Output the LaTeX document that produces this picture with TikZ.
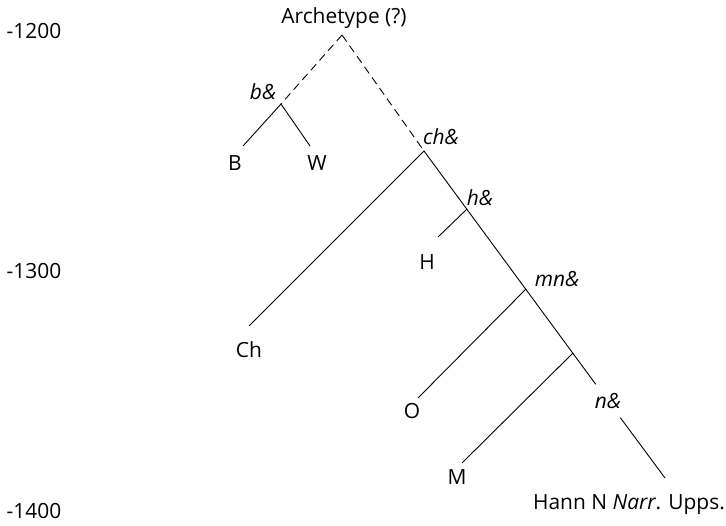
\documentclass[tikz,border=0pt]{standalone}
\usepackage{fontspec}
\setmainfont{Open Sans}
\begin{document}
\begin{tikzpicture}[x=1bp,y=-1bp,
  branch/.style={line width=0.9bp},
  lost/.style={line width=0.9bp,dash pattern=on 8bp off 5bp},
  lab/.style={inner sep=0pt,font=\fontsize{21}{25}\selectfont},
  hyp/.style={inner sep=0pt,font=\fontsize{21}{25}\selectfont\itshape}]
\useasboundingbox (0,0) rectangle (726,526);
% axis labels
\node[lab] (y1200) at (34,31) {-1200};
\node[lab] (y1300) at (34,271) {-1300};
\node[lab] (y1400) at (34,511) {-1400};
% junctions
\coordinate (apex) at (342,35);
\coordinate (bj) at (281,104);
\coordinate (chj) at (424,151);
\coordinate (hj) at (467,209);
\coordinate (mnj) at (526,289);
\coordinate (mj) at (573,353);
% leaf ends
\coordinate (bend) at (243,146);
\coordinate (wend) at (310,146);
\coordinate (chend) at (249,326);
\coordinate (hend) at (438,237);
\coordinate (oend) at (418,398);
\coordinate (mend) at (462,463);
\coordinate (hannend) at (665,478);
% labels
\node[lab] (arch) at (344,18) {Archetype (?)};
\node[hyp] (blab) at (263,92) {b\&};
\node[hyp] (chlab) at (441,137) {ch\&};
\node[hyp] (hlab) at (480,198) {h\&};
\node[hyp] (mnlab) at (557,279) {mn\&};
\node[hyp,minimum height=33bp] (nlab) at (608,401) {n\&};
\node[lab] (B) at (235,163) {B};
\node[lab] (W) at (317,163) {W};
\node[lab] (Ch) at (249,350) {Ch};
\node[lab] (H) at (427,262) {H};
\node[lab] (O) at (412,411) {O};
\node[lab] (M) at (457,477) {M};
\node[lab] (Hann) at (629,505) {Hann N \textit{Narr}. Upps.};
% lines
\draw[lost] (apex) -- (bj);
\draw[lost] (apex) -- (chj);
\draw[branch] (bend) -- (bj) -- (wend);
\draw[branch] (chend) -- (chj) -- (nlab);
\draw[branch] (nlab) -- (hannend);
\draw[branch] (hj) -- (hend);
\draw[branch] (mnj) -- (oend);
\draw[branch] (mj) -- (mend);
\end{tikzpicture}
\end{document}
